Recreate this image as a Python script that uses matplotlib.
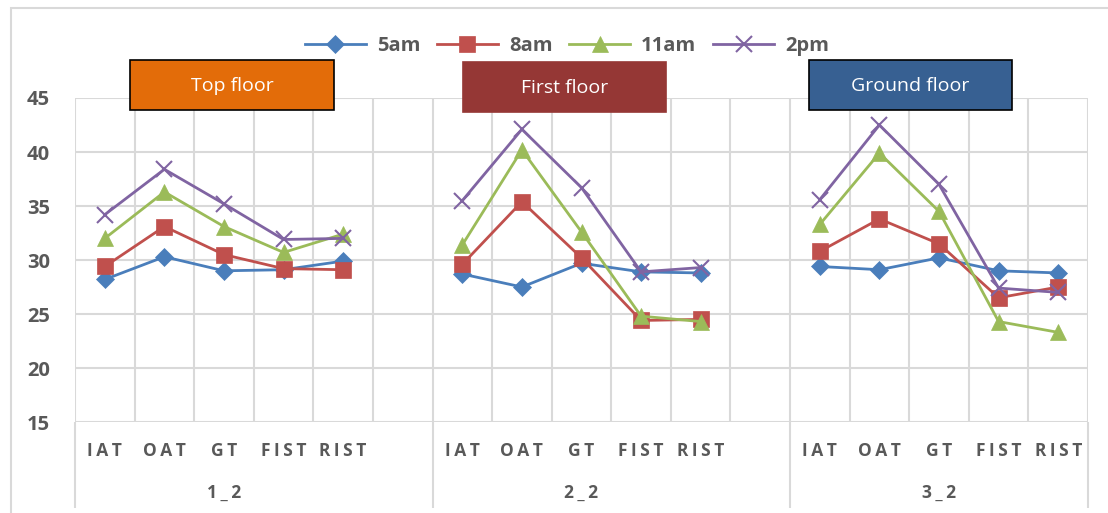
import matplotlib.pyplot as plt
import numpy as np
from matplotlib.patches import Rectangle
from matplotlib.transforms import blended_transform_factory

plt.rcParams['font.family'] = ['Open Sans', 'DejaVu Sans']

# categories within each test group
categories = ["IAT", "OAT", "GT", "FIST", "RIST"]
groups = ["1_2", "2_2", "3_2"]
floors = ["Top floor", "First floor", "Ground floor"]
floor_colors = ["#E36C09", "#953735", "#376092"]
floor_edges = ["#000000", "#953735", "#000000"]

times = ["5am", "8am", "11am", "2pm"]
# temperatures per group (IAT, OAT, GT, FIST, RIST)
t_5am = [[28.2, 30.3, 29.0, 29.1, 29.9],
         [28.7, 27.5, 29.7, 28.9, 28.8],
         [29.4, 29.1, 30.2, 29.0, 28.8]]
t_8am = [[29.4, 33.1, 30.5, 29.2, 29.1],
         [29.6, 35.4, 30.2, 24.4, 24.5],
         [30.8, 33.8, 31.5, 26.5, 27.5]]
t_11am = [[32.0, 36.3, 33.1, 30.7, 32.4],
          [31.4, 40.2, 32.6, 24.8, 24.3],
          [33.3, 39.9, 34.5, 24.3, 23.3]]
t_2pm = [[34.2, 38.4, 35.2, 31.9, 32.0],
         [35.5, 42.1, 36.7, 28.9, 29.3],
         [35.6, 42.5, 37.0, 27.4, 27.0]]
series = [t_5am, t_8am, t_11am, t_2pm]

colors = ["#4A7EBB", "#C0504D", "#9BBB59", "#8064A2"]
markers = ["D", "s", "^", "x"]
msizes = [9.5, 11.5, 12, 11]

# slots: 6 per group for the first two (one blank), 5 for the last
group_slots = [6, 6, 5]
starts = np.cumsum([0] + group_slots[:-1])
n_slots = sum(group_slots)

def flatten(vals):
    out = []
    for g, v in enumerate(vals):
        out += list(v) + [np.nan] * (group_slots[g] - len(v))
    return np.array(out)

x = np.arange(n_slots)
grey = "#595959"
gridc = "#D9D9D9"

fig = plt.figure(figsize=(11.08, 5.13), dpi=100)
ax = fig.add_axes([75 / 1108, 1 - 422 / 513, (1088 - 75) / 1108, 324 / 513])

for vals, c, m, ms, lab in zip(series, colors, markers, msizes, times):
    ax.plot(x, flatten(vals), color=c, marker=m, markersize=ms, lw=2,
            markeredgewidth=1.5 if m == "x" else 0.5, label=lab, zorder=3)

ax.set_xlim(-0.5, n_slots - 0.5)
ax.set_ylim(15, 45)
ax.set_yticks(np.arange(15, 46, 5))
ax.set_xticks(np.arange(-0.5, n_slots, 1))
ax.set_xticklabels([])
ax.tick_params(axis='both', length=0)
ax.tick_params(axis='y', labelsize=14.5, labelcolor=grey, pad=18)
for t in ax.get_yticklabels():
    t.set_fontweight('bold')
ax.grid(True, color=gridc, lw=1.5)
for s in ax.spines.values():
    s.set_visible(False)

# category and group labels under the axis
tr = blended_transform_factory(ax.transData, ax.transAxes)
for g, start in enumerate(starts):
    for i, cat in enumerate(categories):
        ax.text(start + i, -0.088, "\u2009".join(cat), transform=tr, ha='center',
                va='center', fontsize=12.5, fontweight='bold', color=grey)
    ax.text(start + 2, -0.22, "\u2009".join(groups[g]), transform=tr, ha='center',
            va='center', fontsize=12.5, fontweight='bold', color=grey)
seps = list(starts - 0.5) + [n_slots - 0.5]
ax.vlines(seps, -0.265, 0, transform=tr, color=gridc, lw=1.5, clip_on=False)

# floor labels
box_x = [(130, 334, 60), (463, 666, 62), (809, 1012, 60)]
for (x0, x1, y0), name, fc, ec in zip(box_x, floors, floor_colors, floor_edges):
    fig.patches.append(Rectangle((x0 / 1108, 1 - (y0 + 50) / 513), (x1 - x0) / 1108,
                                 50 / 513, transform=fig.transFigure, facecolor=fc,
                                 edgecolor=ec, lw=1.2, zorder=5))
    fig.text((x0 + x1) / 2 / 1108, 1 - (y0 + 26) / 513, name, ha='center', va='center',
             color='white', fontsize=14, zorder=6)

# chart border
fig.patches.append(Rectangle((11 / 1108, -0.05), 1.1, 1.05 - 8 / 513,
                             transform=fig.transFigure, fill=False,
                             edgecolor=gridc, lw=1.5))

leg = fig.legend(loc='center', bbox_to_anchor=(567 / 1108, 1 - 46 / 513), ncol=4,
                 frameon=False, handlelength=3.0, handletextpad=0.55,
                 columnspacing=0.85, markerscale=1.0,
                 prop={'weight': 'bold', 'size': 14.5})
for t in leg.get_texts():
    t.set_color(grey)

fig.savefig("out.png", dpi=100)
